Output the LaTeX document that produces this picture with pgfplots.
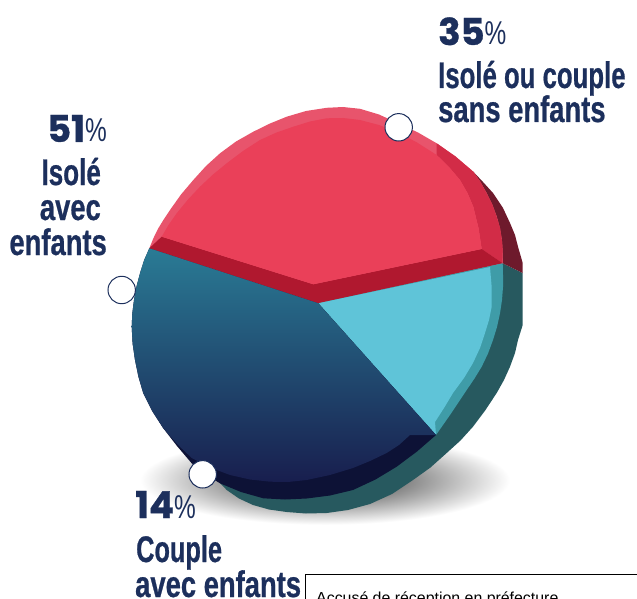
\documentclass[border=0pt]{standalone}
\usepackage{fontspec}
\usepackage{graphicx}
\usepackage{pgfplots}
\pgfplotsset{compat=1.18}
\setmainfont{Liberation Sans}
\newfontfamily\labf[FakeStretch=0.74]{Liberation Sans}
\newfontfamily\labb[FakeStretch=0.74,FakeBold=0.6]{Liberation Sans Bold}
\newfontfamily\numf[FakeBold=1]{Poppins Bold}
\definecolor{navy}{HTML}{1C2F5C}
\newcommand{\lb}[1]{{\fontsize{37}{37}\selectfont\labb\color{navy}#1}}
\newcommand{\nm}[1]{{\color{navy}\fontsize{37}{37}\selectfont\numf #1\fontsize{33}{33}\selectfont\labf\%}}
\pgfdeclareradialshading{shad}{\pgfpointorigin}{color(0bp)=(black!85); color(21.5bp)=(white); color(25bp)=(white); color(50bp)=(white)}
\begin{document}
\begin{tikzpicture}
\path[use as bounding box,clip] (0,0) rectangle (637pt,599pt);
\begin{axis}[scale only axis,width=637pt,height=599pt,xmin=0,xmax=637,ymin=0,ymax=599,y dir=reverse,axis lines=none,clip=true]
% shadow
\addplot[draw=none,shading=shad,smooth cycle] coordinates {(110,480)(172,443)(325,428)(478,443)(540,480)(478,517)(325,532)(172,517)};
% back teal
\addplot[draw=none,fill={rgb,255:red,39;green,89;blue,95}] coordinates {(318,303)(502.7,263.3)(522.7,273)(522.7,325)(518,340)(515,353)(510,366.7)(504,380)(496.7,393)(485.5,410)(473,426.7)(460.5,440.5)(446.7,453)(430.5,467.5)(413,480)(392,494)(370,504)(348,510)(326.7,513)(306,513.5)(286.7,512)(269,509.5)(253,505)(239,498.5)(226.7,490)(220,483)};
% dark red rim
\addplot[draw=none,fill={rgb,255:red,110;green,26;blue,44}] coordinates {(473.3,171.7)(483,182)(493,193)(503,208)(510,223)(515,235)(518,246.7)(522.7,263)(522.7,273)(502.7,263.3)(501.7,240)(496.7,216.7)(486.7,193.3)};
% red outer rim
\addplot[draw=none,fill={rgb,255:red,232;green,84;blue,108}] coordinates {(149.3,248.3)(153.5,238)(158.3,228.3)(164,219)(170,210)(181,194.5)(193.3,180)(206,166)(220,153.3)(236,141.5)(253.3,131.7)(270,123.5)(286.7,116.7)(306,111)(326.7,107.8)(343,107)(360,108.8)(379,114.5)(398.3,123.3)(418,132.5)(436.7,143.3)(455.5,156.5)(473.3,171.7)(480.5,182)(486.7,193.3)(492.3,204.5)(496.7,216.7)(500,228)(501.9,240)(502.7,251)(502.7,263.3)(318.3,303.3)};
% right bevel
\addplot[draw=none,fill={rgb,255:red,210;green,44;blue,71}] coordinates {(436.7,143.3)(455.5,156.5)(473.3,171.7)(480.5,182)(486.7,193.3)(492.3,204.5)(496.7,216.7)(500,228)(501.9,240)(502.7,251)(502.7,263.3)(481.7,249)(478.5,228)(473.3,206.7)(467.5,193)(460,180)(449,167)(436.7,155)};
% lower bevel
\addplot[draw=none,fill={rgb,255:red,176;green,24;blue,47}] coordinates {(149.3,248.3)(161.7,236.7)(313.3,284.3)(481.7,249)(502.7,263.3)(318.3,303.3)};
% red face
\addplot[draw=none,fill={rgb,255:red,234;green,64;blue,89}] coordinates {(161.7,236.7)(168.5,225)(176.7,213.3)(188,199.5)(200,186.7)(213,174.5)(226.7,163.3)(243,151)(260,140)(276.5,132.5)(293.3,126.7)(310,121.5)(326.7,118.3)(343,118)(360,120)(379,125)(396.7,131.7)(417,142.5)(436.7,155)(449,167)(460,180)(467.5,193)(473.3,206.7)(478.5,228)(481.7,249)(313.3,284.3)};
% cyan rim
\addplot[draw=none,fill={rgb,255:red,63;green,156;blue,168}] coordinates {(318.3,303.3)(502.7,263.3)(503,275)(503,287)(502,300)(500,313.3)(497,327)(493,340)(488,353.5)(481.7,366.7)(474.5,378.5)(466.7,390)(458,403)(450,415)(443,425)(436,435)};
% cyan face
\addplot[draw=none,fill={rgb,255:red,95;green,196;blue,216}] coordinates {(318.3,303.3)(490,267)(491.5,285)(491.7,306.7)(489,320)(485,333)(480,348)(473,363)(464,378)(453,393)(444,408)(435,422)(436,435)};
% blue rim
\addplot[draw=none,fill={rgb,255:red,13;green,18;blue,54}] coordinates {(318.3,303.3)(149.3,248.3)(144,260.5)(140,273.3)(136.5,286.5)(134,300)(132.3,313.5)(131.7,326.7)(132.6,343.5)(135,360)(138.5,377)(143.3,393.3)(152.5,411.5)(163.3,428.3)(177,446)(191.7,463.3)(205,474)(220,483.3)(241,492)(263.3,498.3)(285,499.5)(306.7,498.5)(330,495.5)(353,490)(375.5,479.5)(396.7,466.7)(417,451.5)(436,435)};
% blue face
\addplot[draw=none,shade,top color={rgb,255:red,42;green,123;blue,149},bottom color={rgb,255:red,24;green,30;blue,78}] coordinates {(318.3,303.3)(149.3,248.3)(144,260.5)(140,273.3)(136.5,286.5)(134,300)(132.3,313.5)(131.7,326.7)(132.6,343.5)(135,360)(138.5,377)(143.3,393.3)(152.5,411.5)(163.3,428.3)(177,444)(191.7,458)(210,467.5)(230,475)(250,479.5)(270,481.7)(288,482)(306.7,480)(330,475)(353,468)(370,461)(386.7,453)(399,445)(410,435)(436,435)};
% markers
\addplot[only marks,mark=*,mark size=13.7pt,mark options={draw=navy,fill=white,line width=1pt}] coordinates {(398.7,127.3)(121.7,290)(202.7,474.3)};
% stamp box
\addplot[black,line width=1pt] coordinates {(305,599)(305,574.5)(637,574.5)};
\node[anchor=base west,inner sep=0pt] at (axis cs:316,603) {\fontsize{15.9}{15.9}\selectfont Accusé de réception en préfecture};
\node[anchor=base west,inner sep=0pt] at (axis cs:438,45) {\nm{35}};
\node[anchor=base west,inner sep=0pt] at (axis cs:438,88) {\scalebox{0.94}[1]{\lb{Isolé ou couple}}};
\node[anchor=base west,inner sep=0pt] at (axis cs:438,122) {\lb{sans enfants}};
\node[anchor=base east,inner sep=0pt] at (axis cs:107,142) {\nm{51}};
\node[anchor=base east,inner sep=0pt] at (axis cs:101,185) {\scalebox{0.95}[1]{\lb{Isolé}}};
\node[anchor=base east,inner sep=0pt] at (axis cs:101,220) {\lb{avec}};
\node[anchor=base east,inner sep=0pt] at (axis cs:107,255) {\lb{enfants}};
\node[anchor=base west,inner sep=0pt] at (axis cs:135,518) {\nm{14}};
\node[anchor=base west,inner sep=0pt] at (axis cs:136,562) {\scalebox{0.925}[1]{\lb{Couple}}};
\node[anchor=base west,inner sep=0pt] at (axis cs:135,597) {\lb{avec enfants}};
\end{axis}
\end{tikzpicture}
\end{document}
